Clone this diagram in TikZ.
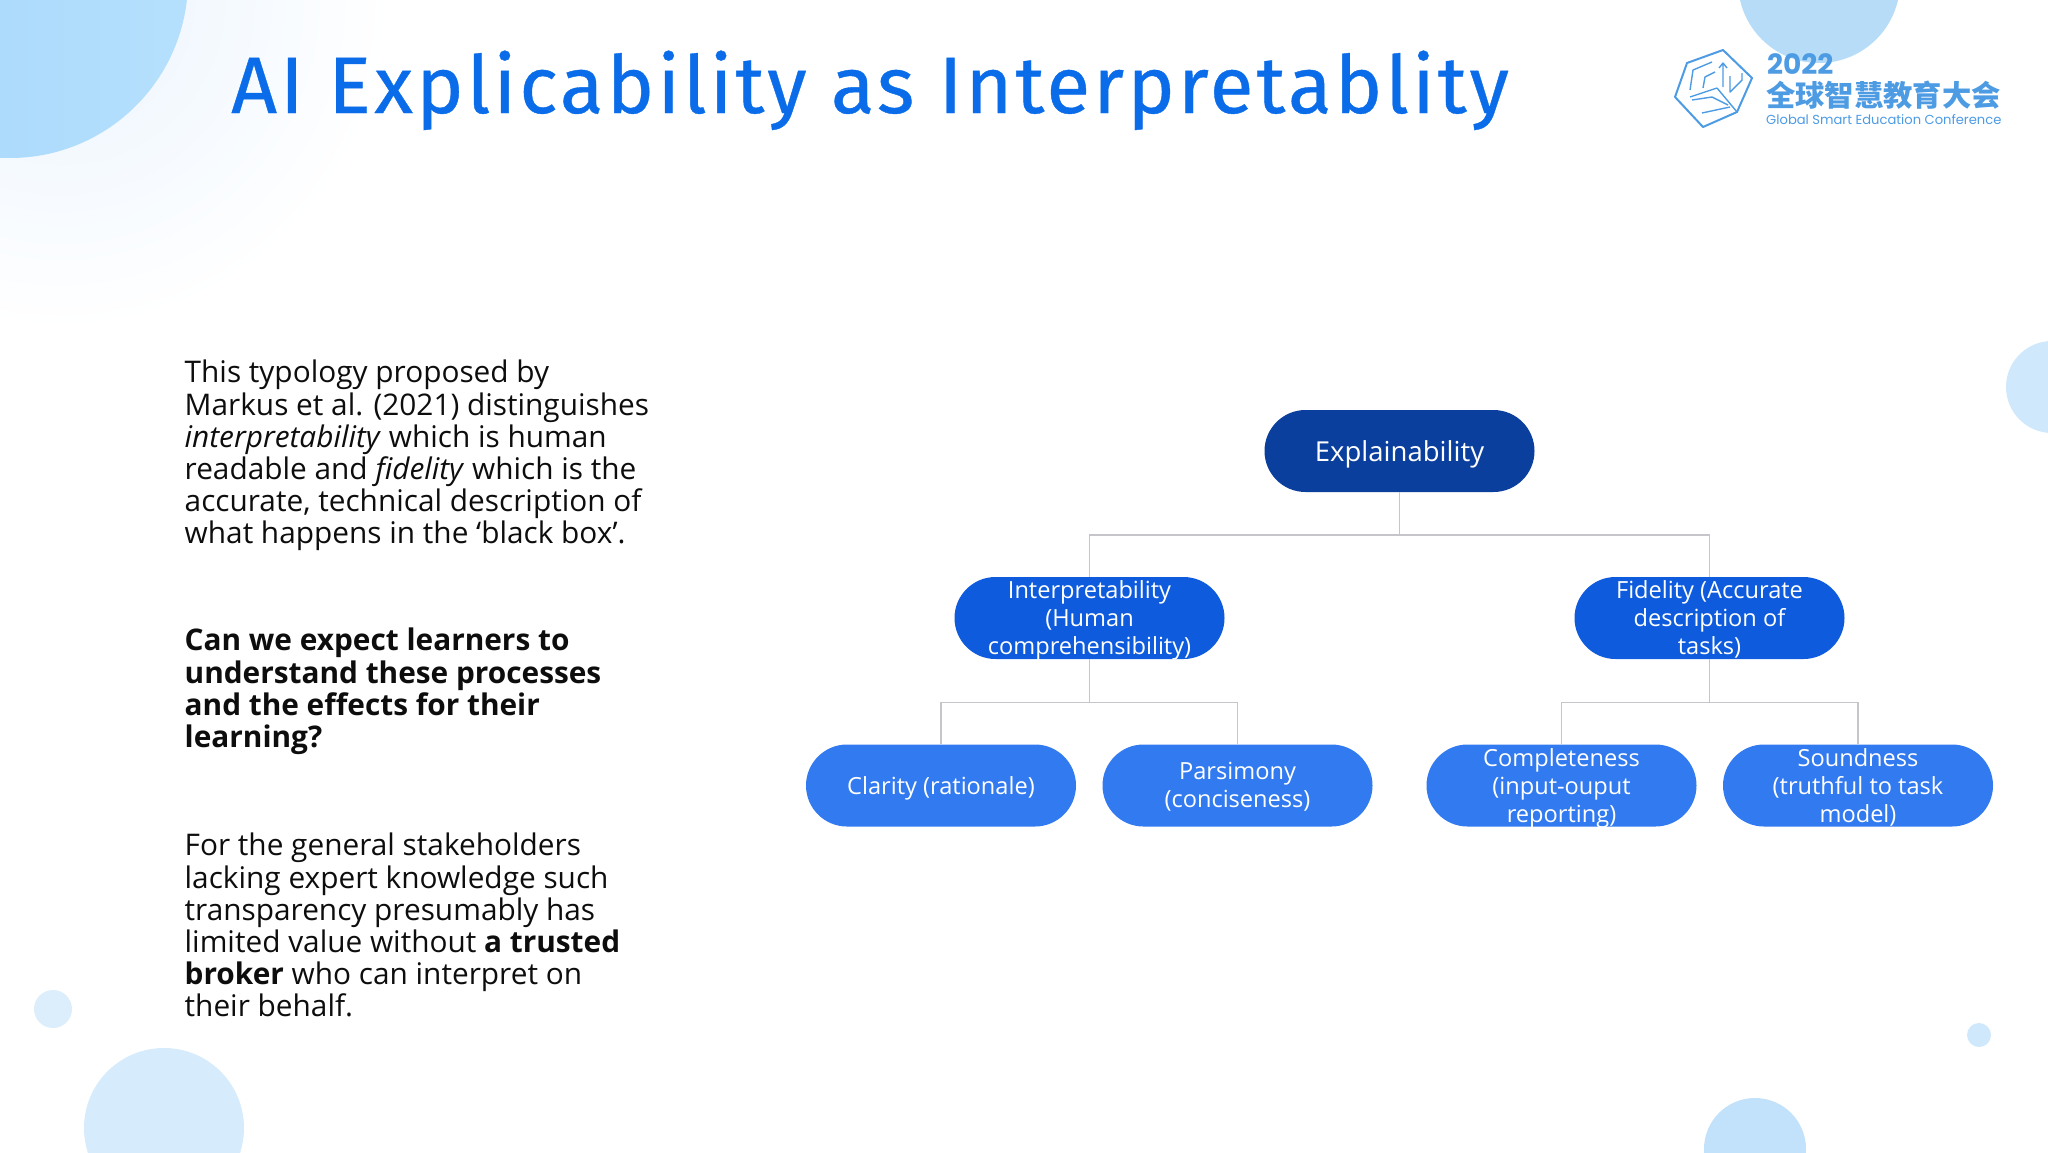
\documentclass[tikz,border=0pt]{standalone}
\usepackage{fontspec}
\setmainfont{Open Sans}
\newfontfamily\titlefont[LetterSpace=4.0,FakeBold=0.5]{Fira Sans}
\newfontfamily\cjkfont{Noto Sans CJK SC}
\newfontfamily\logofont{Poppins}
\definecolor{titleblue}{HTML}{0A6CE8}
\definecolor{rootblue}{HTML}{0A3F9E}
\definecolor{midblue}{HTML}{0E5CDD}
\definecolor{lowblue}{HTML}{327AF0}
\definecolor{linegray}{HTML}{C6C6CA}
\definecolor{logoblue}{HTML}{4D9BE3}
\definecolor{glowblue}{HTML}{EAF4FE}
\definecolor{cornerleft}{HTML}{A6D6FB}
\definecolor{cornerright}{HTML}{B5E0FD}
\definecolor{topcircle}{HTML}{B6DCF8}
\definecolor{sidecircle}{HTML}{CFE8FB}
\definecolor{dotcircle}{HTML}{DCEDFB}
\definecolor{lowcircle}{HTML}{D6EBFC}
\definecolor{rightcircle}{HTML}{C2E1FA}
\tikzset{
    pill/.style={rounded corners=41pt, minimum width=270pt, minimum height=82pt, inner sep=0pt,
        text=white, align=center, text depth=0.5pt, font=\fontsize{23.6}{28}\selectfont},
    para/.style={anchor=north west, inner sep=0pt, align=left, text=black!95,
        font=\fontsize{29.8}{32.2}\selectfont},
    link/.style={draw=linegray, line width=1.6pt},
    logoline/.style={draw=logoblue, line width=1.4pt, line join=round}
}
\begin{document}
\begin{tikzpicture}[x=1pt,y=-1pt]
    \clip (0,0) rectangle (2048,1152);
    \useasboundingbox (0,0) rectangle (2048,1152);
    % background circles
    \shade[inner color=glowblue, outer color=white] (60,0) circle (330);
    \shade[left color=cornerleft, right color=cornerright] (10,-20) circle (178);
    \fill[topcircle] (1819,-18) circle (81);
    \fill[sidecircle] (2052,387) circle (46);
    \fill[dotcircle] (53,1009) circle (19);
    \fill[lowcircle] (164,1128) circle (80);
    \fill[sidecircle] (1979,1035) circle (12);
    \fill[rightcircle] (1755,1149) circle (51);
    % title
    \node[anchor=base west, inner sep=0pt, text=titleblue, font=\fontsize{80}{80}\titlefont] (title) at (231,113)
        {AI Explicability as Interpretablity};
    % logo
    \draw[logoline, line width=2pt] (1723,50) -- (1752,78) -- (1737,112) -- (1703,127) -- (1675,97) -- (1687,63) -- cycle;
    \draw[logoline] (1717,88) -- (1737,112) (1717,88) -- (1690,97);
    \draw[logoline] (1690,90) -- (1693,70) -- (1712,62) (1703,88) -- (1705,77) -- (1715,72);
    \draw[logoline] (1723,63) -- (1723,87) (1719,68) -- (1723,63) -- (1727,68);
    \draw[logoline] (1730,76) -- (1730,92) -- (1742,80) -- (1742,73);
    \draw[logoline] (1692,100) -- (1712,97) -- (1728,105) (1702,113) -- (1730,107);
    \node[anchor=west, inner sep=0pt, text=logoblue, font=\fontsize{28}{28}\logofont\bfseries] (logoyear) at (1767,64) {2022};
    \node[anchor=west, inner sep=0pt, text=logoblue, font=\fontsize{29.3}{29}\cjkfont\bfseries] (logocn) at (1766,95) {全球智慧教育大会};
    \node[anchor=west, inner sep=0pt, text=logoblue, font=\fontsize{13.1}{13}\logofont] (logoen) at (1766,120) {Global Smart Education Conference};
    % left text
    \node[para] (intro) at (184.5,360) {This typology proposed by\\Markus et al. (2021) distinguishes\\\textit{interpretability} which is human\\readable and \textit{fidelity} which is the\\accurate, technical description of\\what happens in the ‘black box’.};
    \node[para] (question) at (184.5,628) {\textbf{Can we expect learners to}\\\textbf{understand these processes}\\\textbf{and the effects for their}\\\textbf{learning?}};
    \node[para] (broker) at (184.5,833) {For the general stakeholders\\lacking expert knowledge such\\transparency presumably has\\limited value without \textbf{a trusted}\\\textbf{broker} who can interpret on\\their behalf.};
    % pills
    \node[pill, fill=rootblue, font=\fontsize{27.5}{32}\selectfont, text depth=0pt] (expl) at (1399.5,451) {Explainability};
    \node[pill, fill=midblue] (interp) at (1089.5,618) {Interpretability\\(Human\\comprehensibility)};
    \node[pill, fill=midblue] (fidel) at (1709.5,618) {Fidelity (Accurate\\description of\\tasks)};
    \node[pill, fill=lowblue] (clarity) at (941,785.5) {Clarity (rationale)};
    \node[pill, fill=lowblue] (parsim) at (1237.5,785.5) {Parsimony\\(conciseness)};
    \node[pill, fill=lowblue] (complete) at (1561.5,785.5) {Completeness\\(input-ouput\\reporting)};
    \node[pill, fill=lowblue] (sound) at (1858,785.5) {Soundness\\(truthful to task\\model)};
    % links
    \coordinate (splitroot) at (1399.5,535);
    \coordinate (splitinterp) at (1089.5,702.5);
    \coordinate (splitfidel) at (1709.5,702.5);
    \draw[link] (expl.south) -- (splitroot) -| (interp.north);
    \draw[link] (splitroot) -| (fidel.north);
    \draw[link] (interp.south) -- (splitinterp) -| (clarity.north);
    \draw[link] (splitinterp) -| (parsim.north);
    \draw[link] (fidel.south) -- (splitfidel) -| (complete.north);
    \draw[link] (splitfidel) -| (sound.north);
\end{tikzpicture}
\end{document}
